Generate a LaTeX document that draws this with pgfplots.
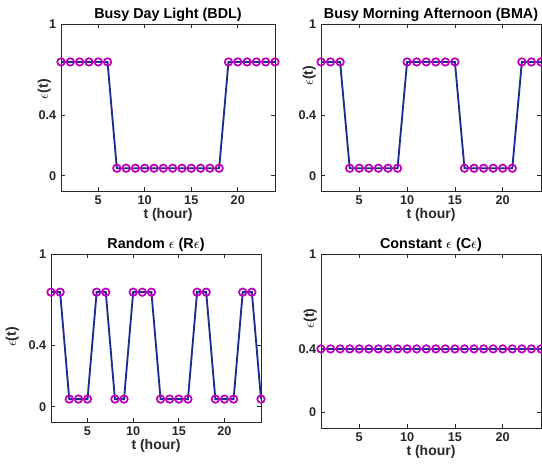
\documentclass[border=0pt]{standalone}
\usepackage{fontspec}
\setmainfont{Liberation Sans}
\usepackage{pgfplots}
\pgfplotsset{compat=1.18}
\definecolor{lineblue}{RGB}{30,45,145}
\definecolor{mkmag}{RGB}{190,0,190}
\definecolor{axgray}{RGB}{40,40,40}

\pgfplotsset{
  epsax/.style={
    scale only axis,
    anchor=north west,
    xmin=1, xmax=24, ymin=-0.1, ymax=1,
    xtick={5,10,15,20}, ytick={0,0.4,1},
    yticklabels={0,0.4,1},
    tick align=inside,
    major tick length=3pt,
    axis line style={axgray, line width=0.5pt},
    every tick/.style={axgray, line width=0.5pt},
    tick label style={font=\fontsize{9.5}{11}\selectfont\bfseries, text=axgray},
    xlabel style={font=\fontsize{10.5}{12}\selectfont\bfseries, text=axgray, yshift=4pt},
    ylabel style={font=\fontsize{10.5}{12}\selectfont\bfseries, text=axgray, anchor=south, inner sep=0pt},
    title style={font=\fontsize{10.75}{13}\selectfont\bfseries, yshift=-8pt},
    xlabel={t (hour)},
    ylabel={$\epsilon$(t)},
    /pgf/number format/assume math mode=true,
    clip=false,
  },
  % ylabel placement: fraction up the axis and gap to the axis line
  ylabpos/.style 2 args={ylabel style={at={(rel axis cs:0,#1)}, yshift=#2}},
  epsline/.style={lineblue, line width=1.4pt, mark=o,
    mark size=2.8pt, mark options={mkmag, line width=1.3pt}},
}

\pgfplotstableread{
t bdl bma rnd cst
1 0.75 0.75 0.75 0.4
2 0.75 0.75 0.75 0.4
3 0.75 0.75 0.05 0.4
4 0.75 0.05 0.05 0.4
5 0.75 0.05 0.05 0.4
6 0.75 0.05 0.75 0.4
7 0.05 0.05 0.75 0.4
8 0.05 0.05 0.05 0.4
9 0.05 0.05 0.05 0.4
10 0.05 0.75 0.75 0.4
11 0.05 0.75 0.75 0.4
12 0.05 0.75 0.75 0.4
13 0.05 0.75 0.05 0.4
14 0.05 0.75 0.05 0.4
15 0.05 0.75 0.05 0.4
16 0.05 0.05 0.05 0.4
17 0.05 0.05 0.75 0.4
18 0.05 0.05 0.75 0.4
19 0.75 0.05 0.05 0.4
20 0.75 0.05 0.05 0.4
21 0.75 0.05 0.05 0.4
22 0.75 0.75 0.75 0.4
23 0.75 0.75 0.75 0.4
24 0.75 0.75 0.05 0.4
}\epsdata

\begin{document}
\begin{tikzpicture}
\path[use as bounding box] (0,0) rectangle (406.5pt,351pt);

\begin{axis}[epsax, at={(45.75pt,333pt)}, width=160.5pt, height=125.25pt,
  ylabpos={0.61}{7.5pt},
  title={Busy Day Light (BDL)}]
  \addplot[epsline] table[x=t, y=bdl] {\epsdata};
\end{axis}

\begin{axis}[epsax, at={(240.75pt,333pt)}, width=165pt, height=125.25pt,
  ylabpos={0.69}{3.75pt},
  title={Busy Morning Afternoon (BMA)}]
  \addplot[epsline] table[x=t, y=bma] {\epsdata};
\end{axis}

\begin{axis}[epsax, at={(38.25pt,160.5pt)}, width=157.5pt, height=126pt,
  ylabpos={0.506}{24pt},
  title={Random $\epsilon$ (R$\epsilon$)}]
  \addplot[epsline] table[x=t, y=rnd] {\epsdata};
\end{axis}

\begin{axis}[epsax, at={(240.75pt,160.5pt)}, width=165pt, height=130.5pt,
  ylabpos={0.63}{3pt},
  title={Constant $\epsilon$ (C$\epsilon$)}]
  \addplot[epsline] table[x=t, y=cst] {\epsdata};
\end{axis}
\end{tikzpicture}
\end{document}
